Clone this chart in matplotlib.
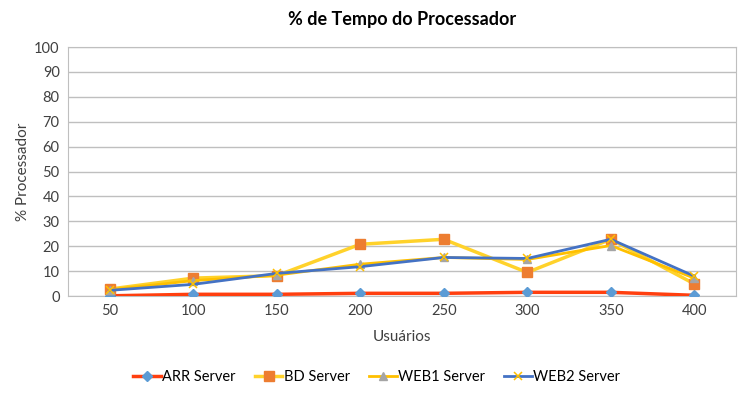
import matplotlib
matplotlib.use("Agg")
from matplotlib import pyplot as plt

plt.rcParams['font.family'] = ['Lato', 'DejaVu Sans']

usuarios = [50, 100, 150, 200, 250, 300, 350, 400]
arr = [0.1, 0.7, 0.7, 1.1, 1.1, 1.5, 1.5, 0.3]
bd = [2.8, 7.2, 8.2, 20.8, 22.8, 9.5, 22.8, 4.9]
web1 = [2.5, 6.2, 8.4, 12.8, 15.5, 14.7, 20.3, 7.2]
web2 = [2.3, 4.7, 9.1, 11.8, 15.5, 15.1, 22.8, 8.0]

fig = plt.figure(figsize=(7.46, 3.99), dpi=100)
ax = fig.add_axes([0.0912, 0.258, 0.8954, 0.624])

x = range(len(usuarios))
ax.plot(x, arr, '-D', color='#FF3F0F', lw=2.5, ms=5,
        mfc='#5B9BD5', mec='#5B9BD5', label='ARR Server', zorder=3)
ax.plot(x, bd, '-s', color='#FFD22B', lw=2.5, ms=6.5,
        mfc='#ED7D31', mec='#ED7D31', label='BD Server', zorder=3)
ax.plot(x, web1, '-^', color='#FFC000', lw=2.0, ms=5.5,
        mfc='#A5A5A5', mec='#A5A5A5', label='WEB1 Server', zorder=3)
ax.plot(x, web2, '-x', color='#4472C4', lw=2.0, ms=6, mew=1.1,
        mfc='#FFC000', mec='#FFC000', label='WEB2 Server', zorder=3)

ax.set_xlim(-0.5, len(usuarios) - 0.5)
ax.set_ylim(0, 100)
ax.set_yticks(range(0, 101, 10))
ax.set_xticks(list(x))
ax.set_xticklabels([str(u) for u in usuarios])
ax.tick_params(length=0, labelsize=10.5, colors='#404040', pad=6)
ax.grid(axis='y', color='#BFBFBF', lw=1)
ax.set_axisbelow(True)
for s in ax.spines.values():
    s.set_color('#BFBFBF')

ax.set_title('% de Tempo do Processador', fontsize=13, fontweight='bold',
             color='#000000', pad=16)
ax.set_xlabel('Usuários', fontsize=11, color='#404040', labelpad=8)
ax.set_ylabel('% Processador', fontsize=11, color='#404040', labelpad=3)

fig.legend(loc='center', bbox_to_anchor=(0.505, 0.055), ncol=4, frameon=False,
           fontsize=10.5, handlelength=1.9, columnspacing=1.3, handletextpad=0.1)

fig.savefig('out.png', dpi=100)
